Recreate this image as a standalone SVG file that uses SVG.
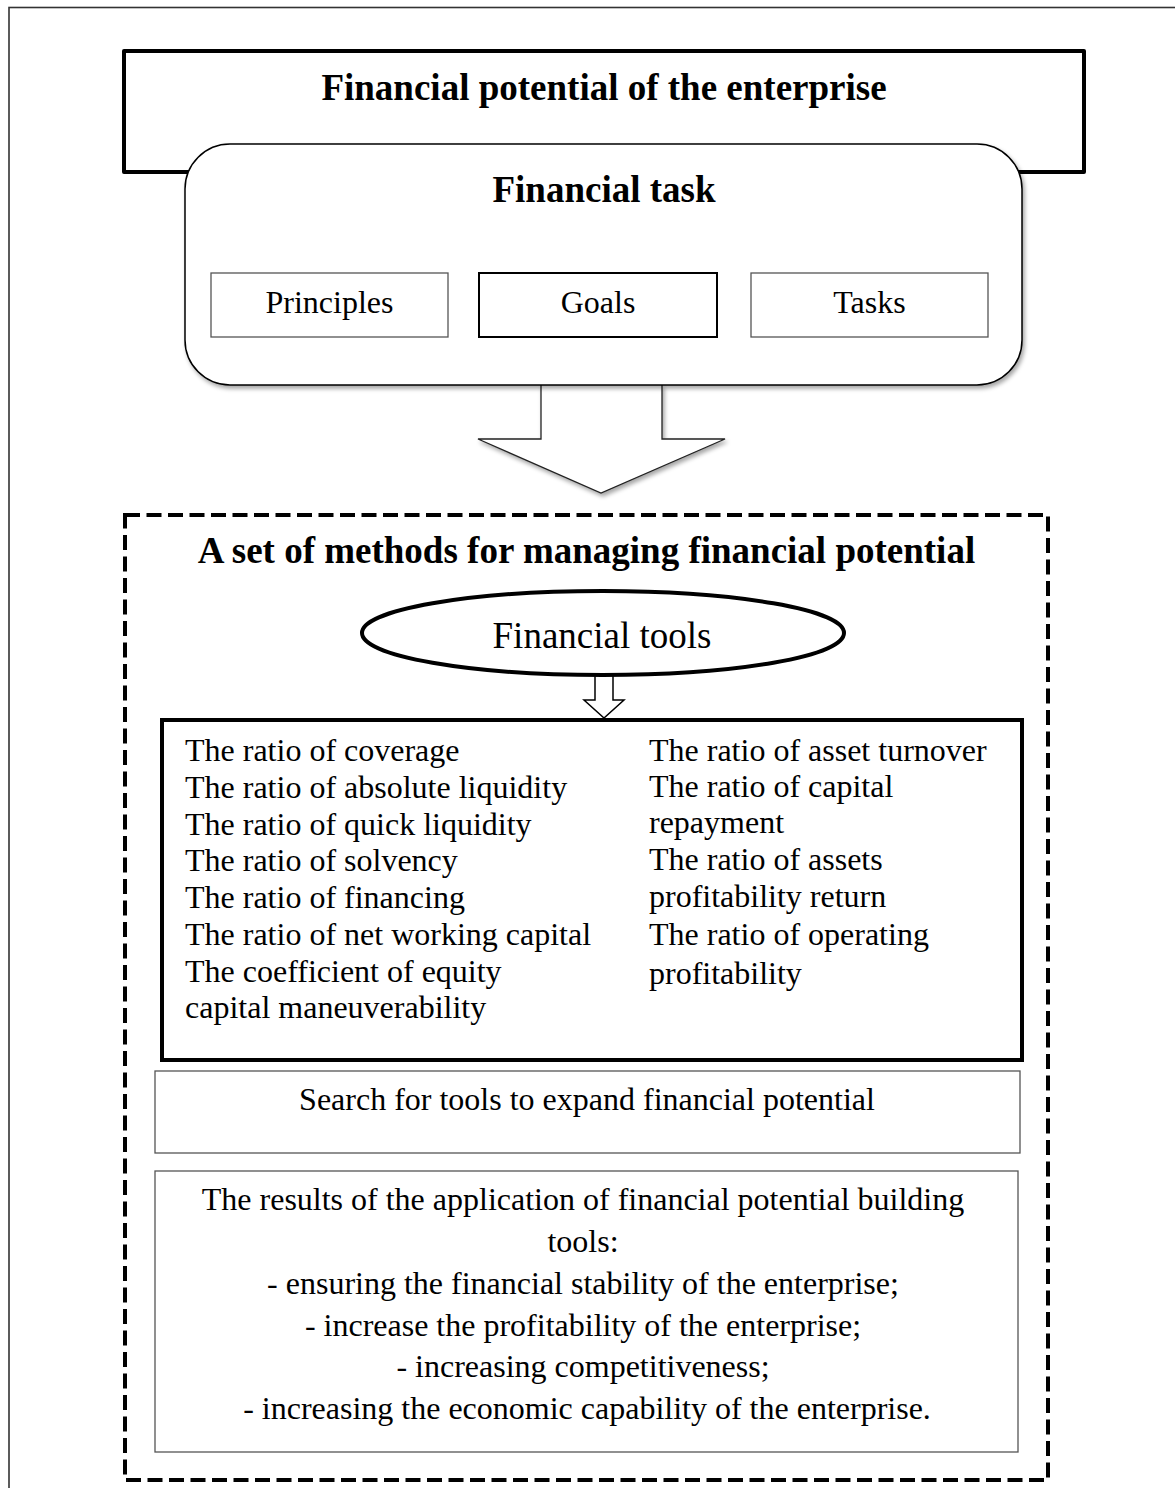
<svg xmlns="http://www.w3.org/2000/svg" width="1175" height="1488" viewBox="0 0 1175 1488">
<style>
text{font-family:"Liberation Serif","Times New Roman",serif;fill:#000}
.b{font-weight:bold;font-size:37px}
.r{font-size:32px}
.c{text-anchor:middle}
.thin{fill:#fff;stroke:#555;stroke-width:1.3}
.thick{fill:#fff;stroke:#000;stroke-width:4}
</style>
<defs>
<filter id="sh" x="-10%" y="-10%" width="120%" height="130%">
<feDropShadow dx="2" dy="3" stdDeviation="2" flood-color="#000" flood-opacity="0.35"/>
</filter>
</defs>
<rect id="frame" x="9" y="7.5" width="1180" height="1500" fill="#fff" stroke="#333" stroke-width="1.6"/>
<g id="potential">
<rect x="124" y="51" width="960" height="121" class="thick" stroke-linejoin="round"/>
<text x="604" y="100" class="b c">Financial potential of the enterprise</text>
</g>
<g id="connectors">
<path d="M541,385 V439 H478 L601,493 L725,439 H662 V385" fill="#fff" stroke="#222" stroke-width="1.3" filter="url(#sh)"/>
<path d="M595,675 V700 H584 L604,718 L624,700 H613 V675" fill="#fff" stroke="#000" stroke-width="1.5"/>
</g>
<g id="task">
<rect x="185" y="144" width="837" height="241" rx="45" ry="45" fill="#fff" stroke="#000" stroke-width="1.5" filter="url(#sh)"/>
<text x="604" y="202" class="b c">Financial task</text>
</g>
<g id="principles">
<rect x="211" y="273" width="237" height="64" class="thin"/>
<text x="329.5" y="313" class="r c">Principles</text>
</g>
<g id="goals">
<rect x="479" y="273" width="238" height="64" fill="#fff" stroke="#000" stroke-width="2"/>
<text x="598" y="313" class="r c">Goals</text>
</g>
<g id="tasks">
<rect x="751" y="273" width="237" height="64" class="thin"/>
<text x="869.5" y="313" class="r c">Tasks</text>
</g>
<g id="methods">
<rect x="125" y="515" width="923" height="965" fill="none" stroke="#000" stroke-width="4" stroke-dasharray="15 6.5"/>
<text x="586.5" y="563" class="b c">A set of methods for managing financial potential</text>
</g>
<g id="tools">
<ellipse cx="603" cy="633" rx="241" ry="42" fill="#fff" stroke="#000" stroke-width="4"/>
<text x="602" y="648" class="c" style="font-size:37px">Financial tools</text>
</g>
<g id="ratios">
<rect x="162" y="720" width="860" height="340" class="thick"/>
<text class="r" x="185">
<tspan x="185" y="761">The ratio of coverage</tspan>
<tspan x="185" y="798">The ratio of absolute liquidity</tspan>
<tspan x="185" y="835">The ratio of quick liquidity</tspan>
<tspan x="185" y="871">The ratio of solvency</tspan>
<tspan x="185" y="908">The ratio of financing</tspan>
<tspan x="185" y="945">The ratio of net working capital</tspan>
<tspan x="185" y="982">The coefficient of equity</tspan>
<tspan x="185" y="1018">capital maneuverability</tspan>
</text>
<text class="r" x="649">
<tspan x="649" y="761">The ratio of asset turnover</tspan>
<tspan x="649" y="797">The ratio of capital</tspan>
<tspan x="649" y="833">repayment</tspan>
<tspan x="649" y="870">The ratio of assets</tspan>
<tspan x="649" y="907">profitability return</tspan>
<tspan x="649" y="945">The ratio of operating</tspan>
<tspan x="649" y="984">profitability</tspan>
</text>
</g>
<g id="search">
<rect x="155" y="1071" width="865" height="82" class="thin"/>
<text x="587" y="1110" class="r c">Search for tools to expand financial potential</text>
</g>
<g id="results">
<rect x="155" y="1171" width="863" height="281" class="thin"/>
<text class="r c">
<tspan x="587" y="1210">The results of the application of financial potential building</tspan>
<tspan x="587" y="1252">tools:</tspan>
<tspan x="587" y="1294">- ensuring the financial stability of the enterprise;</tspan>
<tspan x="587" y="1336">- increase the profitability of the enterprise;</tspan>
<tspan x="587" y="1377">- increasing competitiveness;</tspan>
<tspan x="587" y="1419">- increasing the economic capability of the enterprise.</tspan>
</text>
</g>
</svg>
